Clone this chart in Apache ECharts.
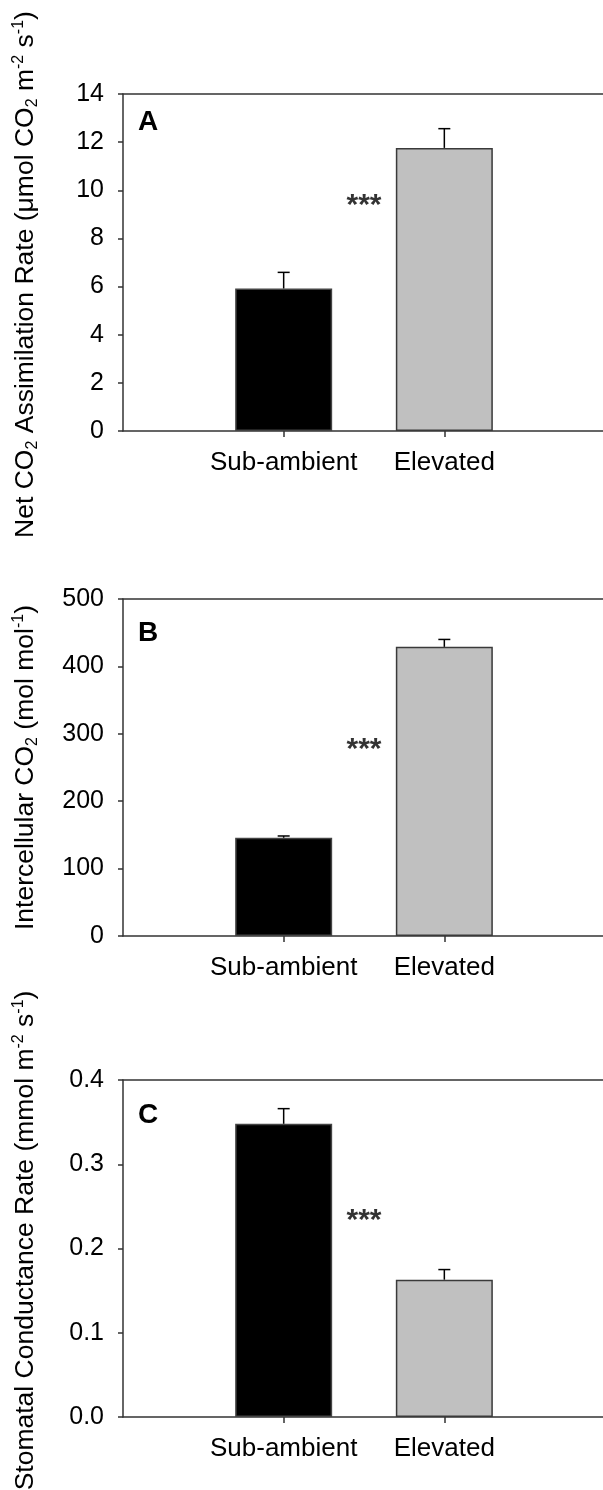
<!DOCTYPE html>
<html>
<head>
<meta charset="utf-8">
<script src="https://cdn.jsdelivr.net/npm/echarts@6/dist/echarts.min.js"></script>
<style>
  html, body { margin: 0; padding: 0; background: #fff; }
  #main { width: 603px; height: 1490px; }
</style>
</head>
<body>
<div id="main"></div>
<script>
const categories = ['Sub-ambient', 'Elevated']
const catPos = [1, 2]
const panelLetters = ['A', 'B', 'C']

// means and standard errors
const netAssim = [5.92, 11.76]
const netAssimErr = [0.67, 0.80]
const intercellular = [145.8, 429.0]
const intercellularErr = [2.6, 11.0]
const stomatal = [0.348, 0.163]
const stomatalErr = [0.018, 0.012]

// height of the *** marker in each panel
const sigLevel = [9.54, 281.7, 0.2376]

const yMax = [14, 500, 0.4]
const yStep = [2, 100, 0.1]

const yTitles = [
  '{n|Net CO}{s|2}{n| Assimilation Rate (\u03bcmol CO}{s|2}{n| m}{p|-2}{n| s}{p|-1}{n|)}',
  '{n|Intercellular CO}{s|2}{n| (mol mol}{p|-1}{n|)}',
  '{n|Stomatal Conductance Rate (mmol m}{p|-2}{n| s}{p|-1}{n|)}'
]

const panelValues = [netAssim, intercellular, stomatal]
const panelErrors = [netAssimErr, intercellularErr, stomatalErr]

const font = 'Liberation Sans, Arial, sans-serif'
const axisColor = '#333'
const barFill = ['#000000', '#c0c0c0']
const barBorder = ['#444444', '#3a3a3a']
const gridTops = [94, 599, 1080]
const letterTops = [108, 619, 1101]
// nudge the long titles along the axis
const titlePad = [[0, 24, 0, 0], 0, [0, 0, 0, 16]]

const chart = echarts.init(document.getElementById('main'))

const grid = [], xAxis = [], yAxis = [], series = [], title = []

gridTops.forEach(function (top, i) {
  grid.push({ left: 123, top: top, width: 482, height: 337, containLabel: false, outerBoundsMode: 'none' })
  title.push({
    text: panelLetters[i], left: 138, top: letterTops[i], padding: 0,
    textStyle: { fontFamily: font, fontSize: 28, fontWeight: 'bold', color: '#000' }
  })
  xAxis.push({
    type: 'value', gridIndex: i, min: 0, max: 3, interval: 1,
    splitLine: { show: false },
    axisLine: { lineStyle: { color: axisColor, width: 1.5 } },
    axisTick: { customValues: catPos, length: 6, lineStyle: { color: axisColor, width: 1.5 } },
    axisLabel: {
      customValues: catPos, margin: 19,
      fontFamily: font, fontSize: 26, color: '#000',
      formatter: function (v) { return categories[Math.round(v) - 1] || '' }
    }
  })
  // top frame line
  xAxis.push({
    type: 'value', gridIndex: i, position: 'top', min: 0, max: 3,
    splitLine: { show: false }, axisTick: { show: false }, axisLabel: { show: false },
    axisLine: { show: true, lineStyle: { color: axisColor, width: 1.5 } }
  })
  yAxis.push({
    type: 'value', gridIndex: i, min: 0, max: yMax[i], interval: yStep[i],
    splitLine: { show: false },
    axisLine: { show: true, lineStyle: { color: axisColor, width: 1.5 } },
    axisTick: { show: true, length: 5, lineStyle: { color: axisColor, width: 1.5 } },
    axisLabel: {
      margin: 19, fontFamily: font, fontSize: 25, color: '#000',
      formatter: function (v) { return i === 2 ? v.toFixed(1) : String(v) }
    },
    name: yTitles[i], nameLocation: 'middle', nameGap: 82, nameRotate: 90,
    nameTextStyle: {
      fontFamily: font, color: '#000', padding: titlePad[i],
      rich: {
        n: { fontFamily: font, fontSize: 26.5, lineHeight: 30, color: '#000' },
        s: { fontFamily: font, fontSize: 16, lineHeight: 14, verticalAlign: 'bottom', color: '#000' },
        p: { fontFamily: font, fontSize: 16, lineHeight: 14, verticalAlign: 'top', color: '#000' }
      }
    }
  })

  const vals = panelValues[i], errs = panelErrors[i]
  const xi = i * 2
  series.push({
    type: 'bar', xAxisIndex: xi, yAxisIndex: i, barWidth: 97,
    data: vals.map(function (v, k) {
      return {
        value: [catPos[k], v],
        itemStyle: { color: barFill[k], borderColor: barBorder[k], borderWidth: 1.5 }
      }
    })
  })
  series.push({
    type: 'custom', xAxisIndex: xi, yAxisIndex: i, z: 5,
    data: vals.map(function (v, k) { return [catPos[k], v, errs[k]] }),
    renderItem: function (params, api) {
      const base = api.coord([api.value(0), api.value(1)])
      const top = api.coord([api.value(0), api.value(1) + api.value(2)])
      const hw = 6
      const st = { stroke: '#000', lineWidth: 1.5 }
      return {
        type: 'group',
        children: [
          { type: 'line', shape: { x1: base[0], y1: base[1], x2: top[0], y2: top[1] }, style: st },
          { type: 'line', shape: { x1: top[0] - hw, y1: top[1], x2: top[0] + hw, y2: top[1] }, style: st }
        ]
      }
    }
  })
  series.push({
    type: 'scatter', xAxisIndex: xi, yAxisIndex: i, symbolSize: 1,
    itemStyle: { color: 'rgba(0,0,0,0)' },
    data: [[1.5, sigLevel[i]]],
    label: {
      show: true, position: 'inside', offset: [0, 4], formatter: '***',
      fontFamily: font, fontSize: 30, fontWeight: 'bold', color: '#000'
    }
  })
})

chart.setOption({
  animation: false,
  backgroundColor: '#fff',
  title: title,
  grid: grid,
  xAxis: xAxis,
  yAxis: yAxis,
  series: series
})
</script>
</body>
</html>
